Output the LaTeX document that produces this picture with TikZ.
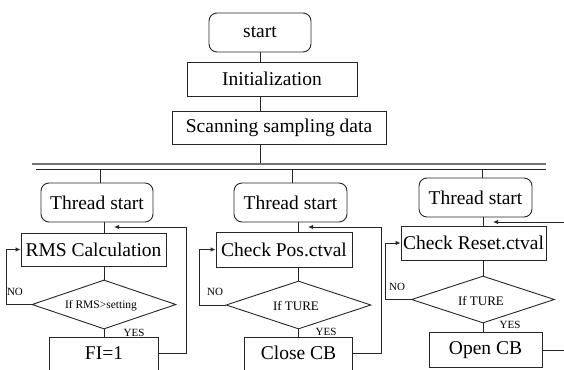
\documentclass[tikz,border=0pt]{standalone}
\usepackage{fontspec}
\setmainfont{Liberation Serif}
\usetikzlibrary{shapes.geometric,arrows.meta}

\tikzset{
  ln/.style={draw=black!85, line width=0.9pt},
  arr/.style={ln, -{Latex[length=5pt,width=4.5pt]}},
  txt/.style={font=\fontsize{19.5}{22}\selectfont, inner sep=0pt},
  procbox/.style={txt, ln, rectangle},
  roundbox/.style={txt, ln, rectangle, rounded corners=8pt},
  openbox/.style={txt, rectangle},
  decide/.style={ln, diamond, inner sep=0pt, aspect=3},
  small/.style={font=\fontsize{11}{12}\selectfont, inner sep=0pt},
}

\begin{document}
\begin{tikzpicture}[x=1pt, y=-1pt]
\useasboundingbox (0,0) rectangle (564,369);
\clip (0,0) rectangle (564,369);

% main sequence
\node[roundbox, minimum width=102pt, minimum height=39pt] (start) at (260,32.5) {start};
\node[procbox, minimum width=170pt, minimum height=34pt] (init) at (272,79) {Initialization};
\node[procbox, minimum width=214pt, minimum height=33pt] (scan) at (279,127.5) {Scanning sampling data};

\draw[ln] (start.south) -- (start.south |- init.north);
\draw[ln] (init.south -| start.south) -- (scan.north -| start.south);

% double bus line
\coordinate (busTop) at (260,164);
\coordinate (busAL) at (32,164);
\coordinate (busAR) at (546,164);
\coordinate (busBL) at (36,169);
\coordinate (busBR) at (546,169);
\draw[ln] (scan.south -| start.south) -- (busTop);
\draw[draw=black!55, line width=1.3pt] (busAL) -- (busAR);
\draw[ln] (busBL) -- (busBR);

\coordinate (b1) at (100,169);
\coordinate (b2) at (292,169);
\coordinate (b3) at (482,169);
\coordinate (bot) at (0,380);

% ---- thread 1 ----
\node[roundbox, minimum width=112pt, minimum height=39pt] (ts1) at (97,202.5) {Thread start};
\node[procbox, minimum width=145pt, minimum height=33pt] (rms) at (93.5,249.5) {RMS Calculation};
\node[decide, minimum width=144pt, minimum height=49pt] (d1) at (104,304.5) {};
\node[font=\fontsize{11.5}{12}\selectfont, inner sep=0pt] (d1t) at (101,305.5) {If RMS>setting};
\node[openbox, minimum width=108pt, minimum height=30pt] (fi) at (104,353) {FI=1};
\coordinate (r1) at (186,227);
\coordinate (t1) at (114,227);

\draw[ln] (b1) -- (b1 |- ts1.north);
\draw[ln] (ts1.south -| d1.north) -- (rms.north -| d1.north);
\draw[ln] (rms.south -| d1.north) -- (d1.north);
\draw[ln] (d1.south) -- (fi.north);
\draw[ln] (fi.north west |- bot) -- (fi.north west) -- (fi.north east) -- (fi.north east |- bot);
\draw[arr] (fi.east) -| (r1) -- (t1);
\draw[arr] (d1.west) -| ([xshift=-14pt]rms.west) -- (rms.west);
\node[small] (no1) at (15,292) {NO};
\node[small] (yes1) at (134,333) {YES};

% ---- thread 2 ----
\node[roundbox, minimum width=113pt, minimum height=39pt] (ts2) at (290.5,202.5) {Thread start};
\node[procbox, minimum width=136pt, minimum height=35pt] (pos) at (284,249.5) {Check Pos.ctval};
\node[decide, minimum width=145pt, minimum height=48pt] (d2) at (298.5,305) {};
\node[font=\fontsize{13}{14}\selectfont, inner sep=0pt] (d2t) at (296,306) {If TURE};
\node[openbox, minimum width=107pt, minimum height=30pt] (close) at (298.5,353) {Close CB};
\coordinate (r2) at (381,227);
\coordinate (t2) at (308,227);

\draw[ln] (b2) -- (b2 |- ts2.north);
\draw[ln] (ts2.south -| d2.north) -- (pos.north -| d2.north);
\draw[ln] (pos.south -| d2.north) -- (d2.north);
\draw[ln] (d2.south) -- (close.north);
\draw[ln] (close.north west |- bot) -- (close.north west) -- (close.north east) -- (close.north east |- bot);
\draw[arr] (close.east) -| (r2) -- (t2);
\draw[arr] (d2.west) -| ([xshift=-16pt]pos.west) -- (pos.west);
\node[small] (no2) at (215,292) {NO};
\node[small] (yes2) at (326,332) {YES};

% ---- thread 3 ----
\node[roundbox, minimum width=113pt, minimum height=39pt] (ts3) at (475.5,197.5) {Thread start};
\node[procbox, minimum width=145pt, minimum height=34pt] (reset) at (473.5,243) {Check Reset.ctval};
\node[decide, minimum width=143pt, minimum height=47pt] (d3) at (483,299.5) {};
\node[font=\fontsize{13}{14}\selectfont, inner sep=0pt] (d3t) at (481,300.5) {If TURE};
\node[procbox, minimum width=113pt, minimum height=35pt] (open) at (485.5,350) {Open CB};
\coordinate (e3) at (564,222);
\coordinate (t3) at (493,222);

\draw[ln] (b3) -- (b3 |- ts3.north);
\draw[ln] (ts3.south -| d3.north) -- (reset.north -| d3.north);
\draw[ln] (reset.south -| d3.north) -- (d3.north);
\draw[ln] (d3.south) -- (d3.south |- open.north);
\draw[ln] (open.east) -- (open.east -| e3);
\draw[arr] (e3) -- (t3);
\draw[arr] (d3.west) -| ([xshift=-15pt]reset.west) -- (reset.west);
\node[small] (no3) at (397,287) {NO};
\node[small] (yes3) at (510,325) {YES};
\end{tikzpicture}
\end{document}
